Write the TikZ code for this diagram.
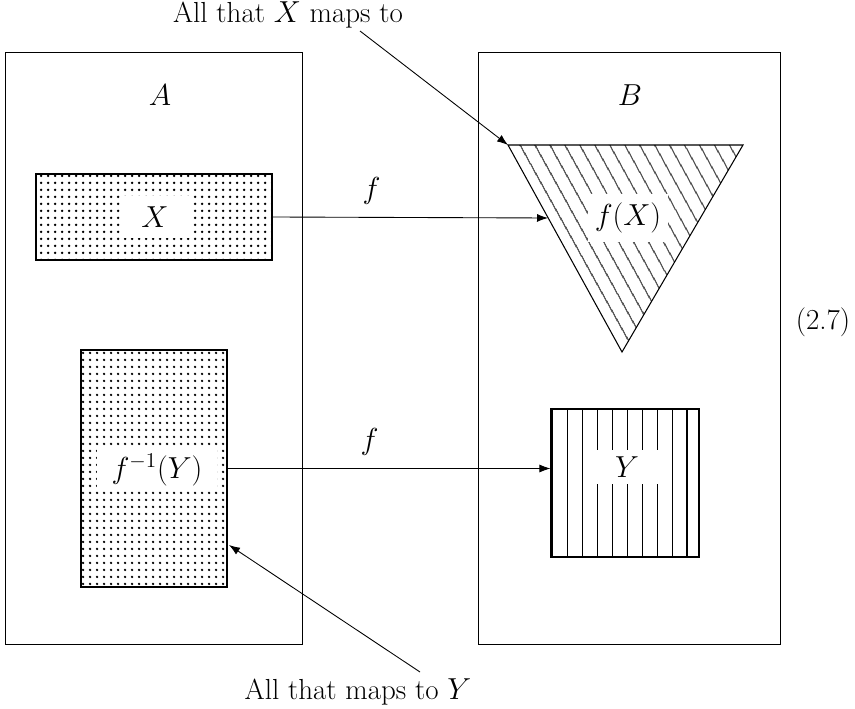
\documentclass[tikz,border=0pt]{standalone}
\usetikzlibrary{arrows.meta,patterns.meta}
\begin{document}
\begin{tikzpicture}[
  x=0.02cm,y=-0.02cm,
  lbl/.style={font=\fontsize{16.5}{20}\selectfont},
  setbox/.style={draw,line width=0.6pt,inner sep=0pt},
  dotset/.style={setbox,pattern={Dots[distance=4pt,radius=0.85pt]}},
  gap/.style={lbl,fill=white,inner xsep=8pt,inner ysep=5pt},
  arrow/.style={-{Latex[length=2.2mm,width=1.6mm]},line width=0.5pt}
]
\useasboundingbox (0,0) rectangle (855,709);
% the two sets
\node[setbox,anchor=north west,minimum width=5.94cm,minimum height=11.84cm] (boxA) at (5,52) {};
\node[setbox,anchor=north west,minimum width=6.04cm,minimum height=11.84cm] (boxB) at (478,52) {};
\node[lbl] (nameA) at (160,95) {$A$};
\node[lbl] (nameB) at (630,95) {$B$};
% subsets of A
\node[dotset,minimum width=4.72cm,minimum height=1.72cm] (X) at (154,217) {};
\node[gap,inner xsep=12pt,inner ysep=6pt] (lblX) at (155,217) {$X$};
\node[dotset,minimum width=2.92cm,minimum height=4.74cm] (preY) at (154,468.5) {};
\node[gap,inner xsep=8.5pt,inner ysep=3pt] (lblpreY) at (157,470) {$f^{-1}(Y)$};
% image of X
\draw[line width=0.6pt,pattern={Lines[angle=-61,distance=7.4pt,line width=0.6pt]}]
  (508,145) coordinate (tl) -- (743,145) coordinate (tr) -- (622,352) coordinate (tb) -- cycle;
\node[gap,inner xsep=4pt,inner ysep=5pt] (fX) at (628,218) {$f(X)$};
\coordinate (fXin) at (548,218);
% Y
\node[setbox,pattern={Lines[angle=90,distance=8.5pt,line width=0.6pt]},minimum width=2.96cm,minimum height=2.96cm] (Y) at (625,483) {};
\node[gap,inner xsep=14pt,inner ysep=4pt] (lblY) at (627,467) {$Y$};
% maps
\draw[arrow] (X.east) -- (fXin) node[pos=0.36,above=4pt,lbl] {$f$};
\draw[arrow] (preY.east) -- (Y.west |- preY.east) node[pos=0.44,above=4pt,lbl] {$f$};
% annotations
\node[lbl] (top) at (288,15) {All that $X$ maps to};
\node[lbl] (bot) at (358,692) {All that maps to $Y$};
\coordinate (topout) at (360,31);
\coordinate (botout) at (420,672);
\coordinate (preYin) at (229,545);
\draw[arrow] (topout) -- (tl);
\draw[arrow] (botout) -- (preYin);
\node[lbl] (eqno) at (823,322) {(2.7)};
\end{tikzpicture}
\end{document}
